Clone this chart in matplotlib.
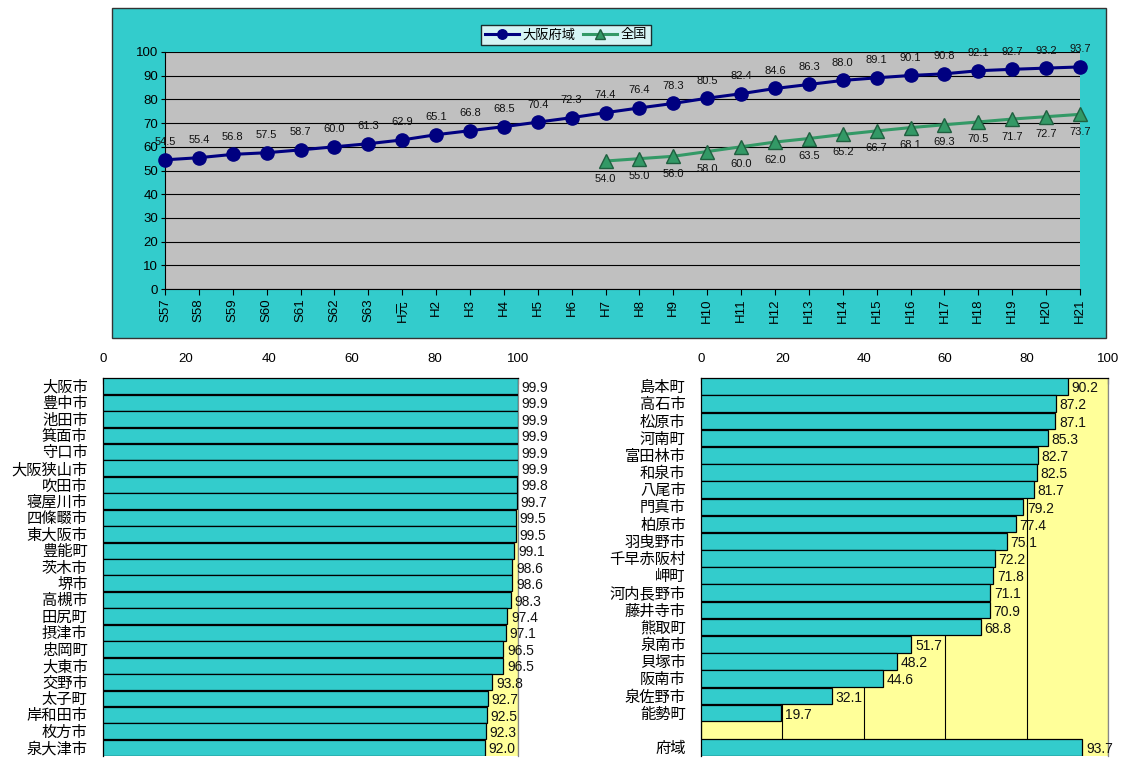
import matplotlib
matplotlib.use("Agg")
import matplotlib.pyplot as plt
from matplotlib.patches import Rectangle

plt.rcParams['font.family'] = ['Liberation Sans', 'Noto Sans CJK JP', 'DejaVu Sans']

# ---------------- data ----------------
years = ['S57', 'S58', 'S59', 'S60', 'S61', 'S62', 'S63', 'H元',
         'H2', 'H3', 'H4', 'H5', 'H6', 'H7', 'H8', 'H9', 'H10', 'H11',
         'H12', 'H13', 'H14', 'H15', 'H16', 'H17', 'H18', 'H19', 'H20', 'H21']
osaka = [54.5, 55.4, 56.8, 57.5, 58.7, 60.0, 61.3, 62.9, 65.1, 66.8, 68.5,
         70.4, 72.3, 74.4, 76.4, 78.3, 80.5, 82.4, 84.6, 86.3, 88.0, 89.1,
         90.1, 90.8, 92.1, 92.7, 93.2, 93.7]
national_years = ['H7', 'H8', 'H9', 'H10', 'H11', 'H12', 'H13', 'H14',
                  'H15', 'H16', 'H17', 'H18', 'H19', 'H20', 'H21']
national = [54.0, 55.0, 56.0, 58.0, 60.0, 62.0, 63.5, 65.2, 66.7, 68.1,
            69.3, 70.5, 71.7, 72.7, 73.7]

left_names = ['大阪市', '豊中市', '池田市', '箕面市', '守口市', '大阪狭山市',
              '吹田市', '寝屋川市', '四條畷市', '東大阪市', '豊能町', '茨木市',
              '堺市', '高槻市', '田尻町', '摂津市', '忠岡町', '大東市', '交野市',
              '太子町', '岸和田市', '枚方市', '泉大津市']
left_vals = [99.9, 99.9, 99.9, 99.9, 99.9, 99.9, 99.8, 99.7, 99.5, 99.5,
             99.1, 98.6, 98.6, 98.3, 97.4, 97.1, 96.5, 96.5, 93.8, 92.7,
             92.5, 92.3, 92.0]

right_names = ['島本町', '高石市', '松原市', '河南町', '富田林市', '和泉市',
               '八尾市', '門真市', '柏原市', '羽曳野市', '千早赤阪村', '岬町',
               '河内長野市', '藤井寺市', '熊取町', '泉南市', '貝塚市', '阪南市',
               '泉佐野市', '能勢町', '', '府域']
right_vals = [90.2, 87.2, 87.1, 85.3, 82.7, 82.5, 81.7, 79.2, 77.4, 75.1,
              72.2, 71.8, 71.1, 70.9, 68.8, 51.7, 48.2, 44.6, 32.1, 19.7,
              None, 93.7]

bar_ticks = [0, 20, 40, 60, 80, 100]

# ---------------- figure ----------------
W, H = 1122, 758
fig = plt.figure(figsize=(W / 100, H / 100), dpi=100)
fig.patch.set_facecolor('white')

def fx(px):
    return px / W

def fy(py):
    return 1 - py / H

# cyan panel behind top chart
panel = Rectangle((fx(112), fy(338)), fx(1106) - fx(112), fy(8) - fy(338),
                  transform=fig.transFigure, facecolor='#33CCCC',
                  edgecolor='#333333', linewidth=1.0, zorder=-1)
fig.patches.append(panel)

# ---------------- top line chart ----------------
ax = fig.add_axes([fx(165), fy(289), fx(1080) - fx(165), fy(52) - fy(289)])
ax.set_facecolor('#C0C0C0')
x_all = list(range(len(years)))
x_nat = [years.index(y) for y in national_years]

ax.plot(x_all, osaka, color='#000080', linewidth=2.2, marker='o',
        markersize=9.5, markerfacecolor='#000080', markeredgecolor='#000080',
        label='大阪府域', zorder=4, clip_on=False)
ax.plot(x_nat, national, color='#339966', linewidth=2.2, marker='^',
        markersize=9.5, markerfacecolor='#339966', markeredgecolor='#1f5f3f',
        label='全国', zorder=4, clip_on=False)

for xi, v in zip(x_all, osaka):
    ax.annotate(f'{v:.1f}', (xi, v), xytext=(0, 9), textcoords='offset points',
                ha='center', va='bottom', fontsize=8, color='#111111')
for xi, v in zip(x_nat, national):
    ax.annotate(f'{v:.1f}', (xi, v), xytext=(0, -9), textcoords='offset points',
                ha='center', va='top', fontsize=8, color='#111111')

ax.set_xlim(0, len(years) - 1)
ax.set_ylim(0, 100)
ax.set_yticks(range(0, 101, 10))
ax.set_xticks(x_all)
ax.set_xticklabels(years, rotation=90, fontsize=9.5)
ax.tick_params(axis='y', labelsize=9.5, direction='out', length=3, pad=2)
ax.tick_params(axis='x', direction='out', length=4, pad=3)
ax.grid(axis='y', color='black', linewidth=0.8)
ax.set_axisbelow(True)
for s in ['top', 'right']:
    ax.spines[s].set_visible(False)
ax.spines['left'].set_color('black')
ax.spines['bottom'].set_color('black')

leg = ax.legend(loc='center', bbox_to_anchor=(fx(566), fy(35)),
                bbox_transform=fig.transFigure, ncol=2, fontsize=9.5,
                frameon=True, fancybox=False, handlelength=2.6,
                handletextpad=0.3, columnspacing=0.5, borderpad=0.25,
                markerscale=0.72)
leg.get_frame().set_edgecolor('black')
leg.get_frame().set_linewidth(1.0)

# ---------------- bar charts ----------------
def bar_chart(rect, names, vals, grid):
    bx = fig.add_axes(rect)
    bx.set_facecolor('#FFFF99')
    n = len(names)
    ys = list(range(n))
    for yi, v in zip(ys, vals):
        if v is None:
            continue
        bx.barh(yi, v, height=0.97, color='#33CCCC', edgecolor='black',
                linewidth=0.9, zorder=3)
        bx.text(v + 0.9, yi + 0.1, f'{v:.1f}', ha='left', va='center',
                fontsize=10, color='#111111', zorder=4, clip_on=False)
    bx.set_xlim(0, 100)
    bx.set_ylim(n - 0.5, -0.5)
    bx.set_yticks(ys)
    bx.set_yticklabels(names, fontsize=11)
    bx.tick_params(axis='y', length=0, pad=11)
    bx.xaxis.tick_top()
    bx.set_xticks(bar_ticks)
    bx.tick_params(axis='x', direction='in', length=4, labelsize=9.5, pad=9)
    if grid:
        bx.grid(axis='x', color='black', linewidth=0.8, zorder=1)
        bx.set_axisbelow(True)
    for s in bx.spines.values():
        s.set_color('black')
        s.set_linewidth(0.9)
    bx.spines['right'].set_color('#888888')
    bx.spines['bottom'].set_visible(False)
    return bx

bar_chart([fx(103), fy(756), fx(518) - fx(103), fy(378) - fy(756)],
          left_names, left_vals, grid=True)
bar_chart([fx(701), fy(756), fx(1108) - fx(701), fy(378) - fy(756)],
          right_names, right_vals, grid=True)

fig.savefig('out.png', dpi=100)
